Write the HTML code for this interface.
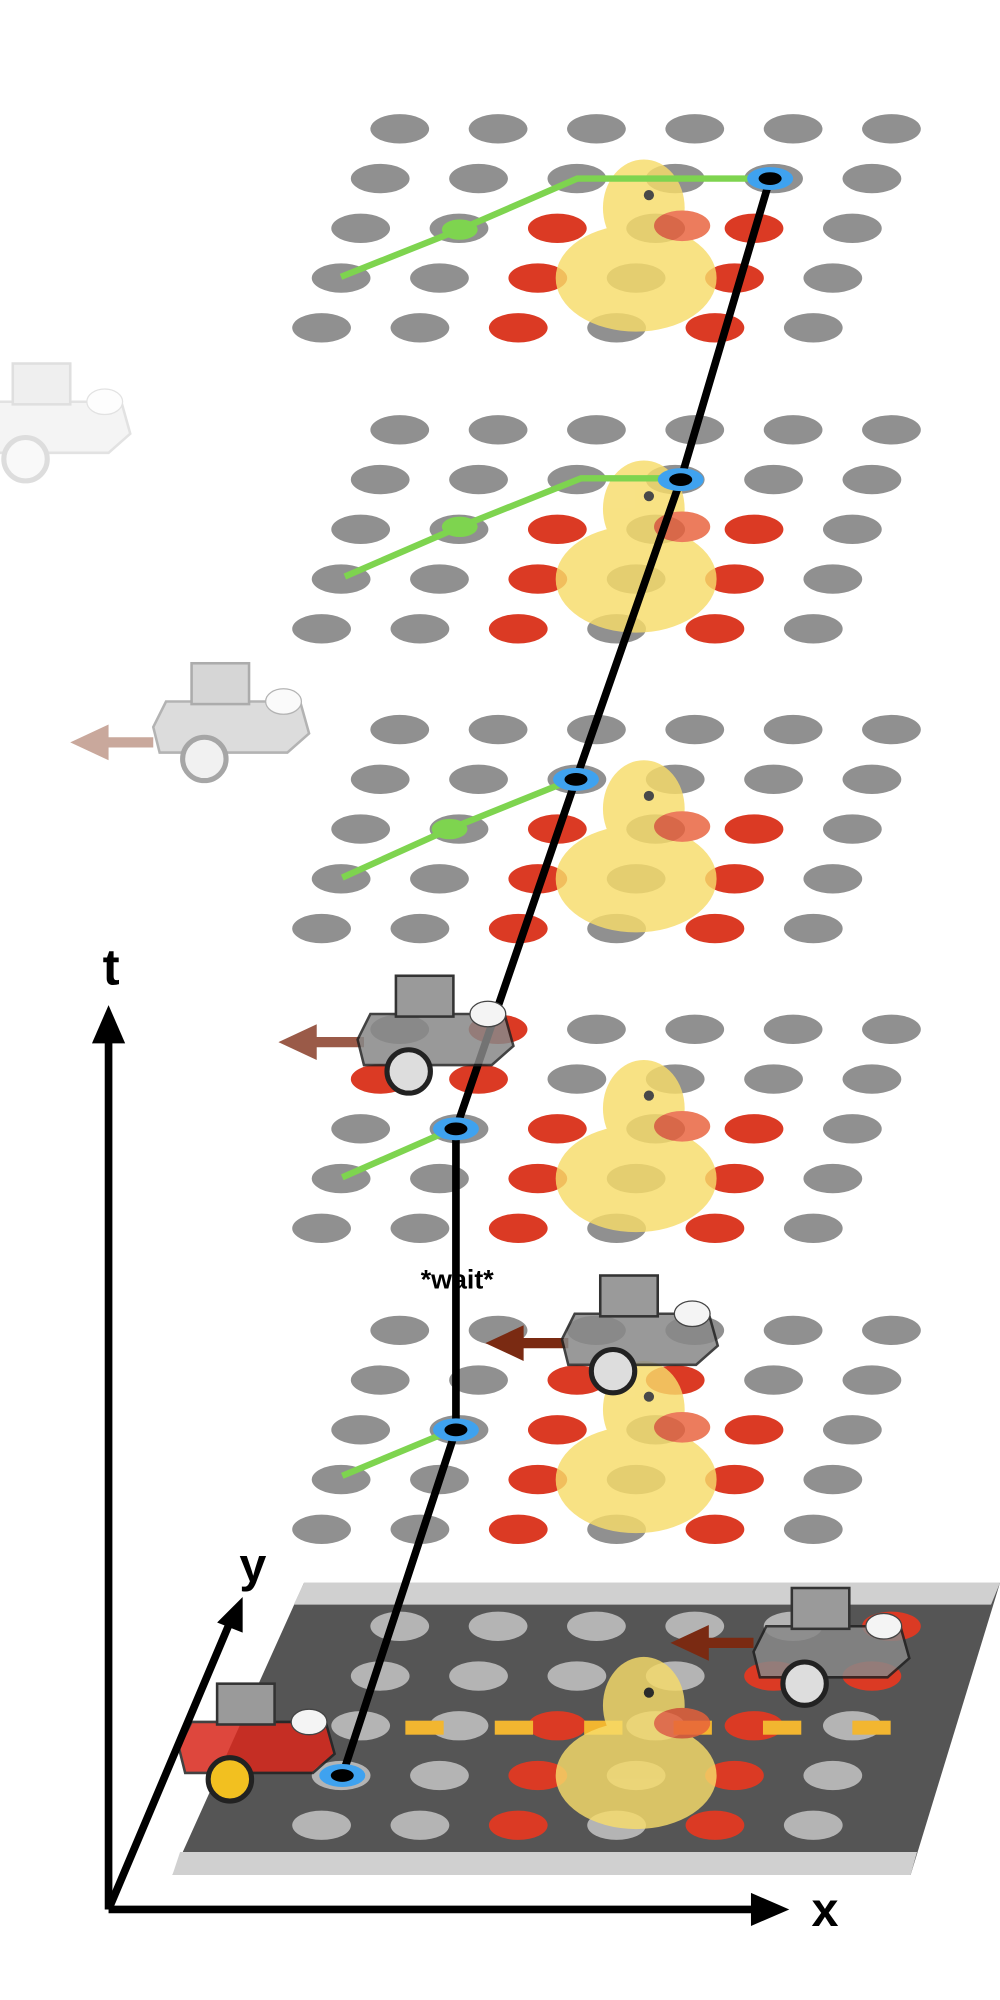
<!DOCTYPE html>
<html><head><meta charset="utf-8"><style>
html,body{margin:0;padding:0;background:#fff;}
svg{display:block;}
</style></head><body>
<svg id="fig" width="1000" height="2000" viewBox="0 0 783 1568" preserveAspectRatio="none" xmlns="http://www.w3.org/2000/svg">
<g id="road">
  <polygon points="238,1241 783,1241 713,1470 135,1470" fill="#555"/>
  <polygon points="238,1241 783,1241 776,1258 230,1258" fill="#d0d0d0"/>
  <polygon points="141,1452 718,1452 713,1470 135,1470" fill="#d0d0d0"/>
</g>
<g id="layers"></g>
<g id="ducks"></g>
<g id="paths"></g>
<g id="robots"></g>
<g id="axes">
  <line x1="85" y1="1497" x2="85" y2="810" stroke="#000" stroke-width="6"/>
  <polygon points="85,788 72,818 98,818" fill="#000"/>
  <line x1="85" y1="1497" x2="595" y2="1497" stroke="#000" stroke-width="6"/>
  <polygon points="618,1497 588,1484 588,1510" fill="#000"/>
  <line x1="85" y1="1497" x2="180" y2="1272" stroke="#000" stroke-width="6"/>
  <polygon points="190,1252 170,1272 190,1280" fill="#000"/>
  <text x="87" y="772" font-family="Liberation Sans, sans-serif" font-weight="bold" font-size="40" text-anchor="middle">t</text>
  <text x="646" y="1510" font-family="Liberation Sans, sans-serif" font-weight="bold" font-size="38" text-anchor="middle">x</text>
  <text x="198" y="1240" font-family="Liberation Sans, sans-serif" font-weight="bold" font-size="38" text-anchor="middle">y</text>
</g>
<text x="358" y="1010" font-family="Liberation Sans, sans-serif" font-weight="bold" font-size="21" text-anchor="middle">*wait*</text>
</svg>
<script>
const NS='http://www.w3.org/2000/svg';
const layerTops=[101,337,572,807,1043,1275];
const redCells=[
 [[2,2],[2,4],[3,2],[3,4],[4,2],[4,4]],
 [[2,2],[2,4],[3,2],[3,4],[4,2],[4,4]],
 [[2,2],[2,4],[3,2],[3,4],[4,2],[4,4]],
 [[0,1],[1,0],[1,1],[2,2],[2,4],[3,2],[3,4],[4,2],[4,4]],
 [[1,2],[1,3],[2,2],[2,4],[3,2],[3,4],[4,2],[4,4]],
 [[0,5],[1,4],[1,5],[2,2],[2,4],[3,2],[3,4],[4,2],[4,4]]
];
const trajX=[603,533,451,357,357,268];
const trajLayerRow=[1,1,1,2,2,3];
const greenPaths=[[[267,217],[360,180],[452,140],[603,140]],[[270,452],[360,413],[455,375],[533,375]],[[268,688],[352,650],[451,610]],[[268,923],[357,884]],[[268,1157],[357,1120]],[]];
const robotPos=[[200,1365,1,'#d9281c'],[650,1290,1,'#888'],[500,1045,1,'#888'],[340,810,1,'#888'],[180,565,0.4,'#999'],[40,330,0.15,'#aaa']];
const arrows=[[590,1288,525,'#7a2a12',1],[445,1053,380,'#7a2a12',1],[285,817,218,'#9a5a48',1],[120,582,55,'#c9a89c',1]];

function el(t,a,p){const e=document.createElementNS(NS,t);for(const k in a)e.setAttribute(k,a[k]);p.appendChild(e);return e;}
const L=document.getElementById('layers'),D=document.getElementById('ducks'),P=document.getElementById('paths'),R=document.getElementById('robots');
function dotX(i,r,c){return 313-r*15.3+c*77;}
function dotY(i,r){return layerTops[i]+r*39;}
layerTops.forEach((top,i)=>{
  const g=el('g',{},L);
  
  
  const road=i===5;
  for(let r=0;r<5;r++)for(let c=0;c<6;c++){
    const red=redCells[i].some(p=>p[0]===r&&p[1]===c);
    const e=el('ellipse',{cx:dotX(i,r,c),cy:dotY(i,r),rx:23,ry:11.5,fill:red?'#db3a24':(road?'#b4b4b4':'#909090')},g);
    
    
  }
  if(road){
    for(let k=0;k<6;k++){
      const x=dotX(5,2,0)+35+k*70;
      const d=el('rect',{x:x,y:1349,width:30,height:11,fill:'#f2b630'},g);
      
      
    }
  }
  const dy=top;const cx=dotX(i,3,3);
  const dg=el('g',{opacity:0.82},D);
  
  
  el('ellipse',{cx:cx,cy:dy+117,rx:63,ry:42,fill:'#f7dc6a'},dg);
  el('ellipse',{cx:cx+6,cy:dy+62,rx:32,ry:38,fill:'#f7dc6a'},dg);
  el('ellipse',{cx:cx+36,cy:dy+76,rx:22,ry:12,fill:'#e8603a'},dg);
  el('circle',{cx:cx+10,cy:dy+52,r:4,fill:'#222'},dg);
});
const pts=trajX.map((x,i)=>[x,dotY(i,trajLayerRow[i])]);
const tl=el('polyline',{points:pts.map(p=>p.join(',')).join(' '),fill:'none',stroke:'#000','stroke-width':6},P);


greenPaths.forEach(gp=>{
  if(!gp.length)return;
  const g=el('polyline',{points:gp.map(p=>p.join(',')).join(' '),fill:'none',stroke:'#7ed44f','stroke-width':5},P);
  
  
  if(gp.length>2){const m=gp[1];const c=el('ellipse',{cx:m[0],cy:m[1],rx:14,ry:8,fill:'#7ed44f'},P);
  
  }
});
pts.forEach(p=>{
  const o=el('ellipse',{cx:p[0],cy:p[1],rx:18,ry:9,fill:'#3fa2ef'},P);
  
  
  el('ellipse',{cx:p[0],cy:p[1],rx:9,ry:5,fill:'#000'},P);
});
arrows.forEach(a=>{
  const g=el('g',{opacity:a[4]},R);
  
  
  el('line',{x1:a[0],y1:a[1],x2:a[2]+25,y2:a[1],stroke:a[3],'stroke-width':8},g);
  el('polygon',{points:`${a[2]},${a[1]} ${a[2]+30},${a[1]-14} ${a[2]+30},${a[1]+14}`,fill:a[3]},g);
});
robotPos.forEach(r=>{
  const [x,y,op,col]=r;
  const g=el('g',{opacity:op},R);
  
  
  el('polygon',{points:`${x-60},${y+5} ${x-50},${y-15} ${x+55},${y-15} ${x+62},${y+10} ${x+45},${y+25} ${x-55},${y+25}`,fill:col,stroke:'#222','stroke-width':2,opacity:0.85},g);
  el('rect',{x:x-30,y:y-45,width:45,height:32,fill:'#9a9a9a',stroke:'#333','stroke-width':2},g);
  el('circle',{cx:x-20,cy:y+30,r:17,fill:col==='#d9281c'?'#f2c020':'#ddd',stroke:'#222','stroke-width':4},g);
  el('ellipse',{cx:x+42,cy:y-15,rx:14,ry:10,fill:'#f4f4f4',stroke:'#444','stroke-width':1},g);
});
</script>
</body></html>
